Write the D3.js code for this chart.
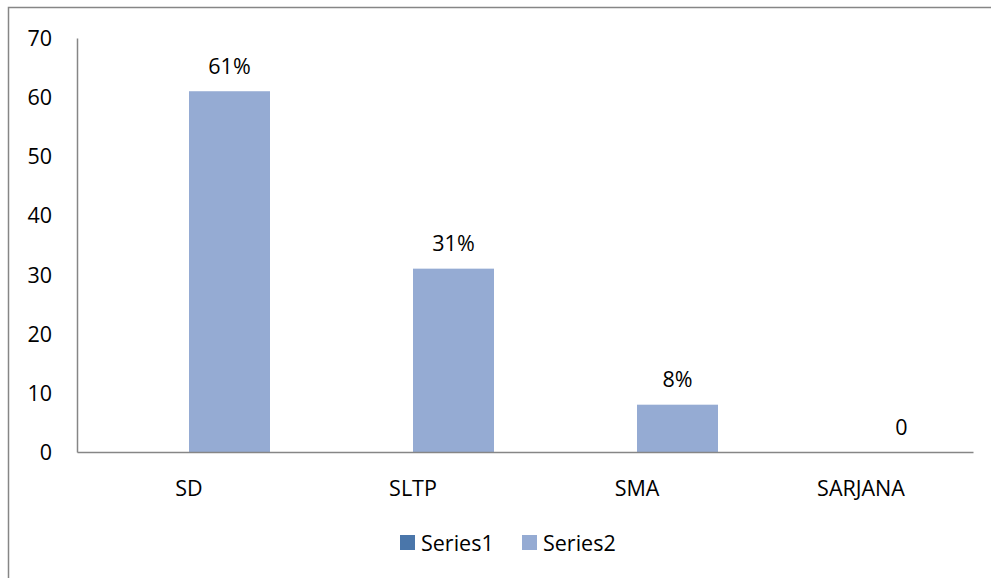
<!DOCTYPE html>
<html>
<head>
<meta charset="utf-8">
<script src="https://cdn.jsdelivr.net/npm/d3@7"></script>
<style>
  body { margin: 0; background: #fff; }
  text { font-family: "Open Sans", "Noto Sans", sans-serif; fill: #000; }
</style>
</head>
<body>
<div id="chart"></div>
<script>
var categories = ['SD', 'SLTP', 'SMA', 'SARJANA'];
var series1 = [0, 0, 0, 0];
var series2 = [61, 31, 8, 0];
var labels2 = ['61%', '31%', '8%', '0'];
var yTicks = [0, 10, 20, 30, 40, 50, 60, 70];
var seriesNames = ['Series1', 'Series2'];
var colors = ['#4a76aa', '#95abd3'];

var width = 991, height = 578;
var margin = {left: 77, right: 18, top: 38, bottom: 126};
var fs = '21.5px';

var svg = d3.select('#chart').append('svg')
  .attr('width', width)
  .attr('height', height);

// outer chart border
svg.append('rect')
  .attr('x', 8.5).attr('y', 7.5)
  .attr('width', 1000).attr('height', 600)
  .attr('fill', 'none')
  .attr('stroke', '#868686')
  .attr('stroke-width', 1.5);

var x = d3.scaleBand()
  .domain(categories)
  .range([margin.left, width - margin.right]);

var y = d3.scaleLinear()
  .domain([0, 70])
  .range([height - margin.bottom, margin.top]);

var barW = 81;

// y axis
var yAxis = svg.append('g')
  .attr('transform', 'translate(' + margin.left + ',0)')
  .call(d3.axisLeft(y).tickValues(yTicks).tickSize(0).tickPadding(25));
yAxis.select('.domain').attr('stroke', '#868686').attr('stroke-width', 1.5);
yAxis.selectAll('text').style('font-size', fs).attr('dy', '0.35em');

// bars
var rows = categories.map(function(c, i) {
  return {cat: c, s1: series1[i], s2: series2[i], label: labels2[i]};
});

var cx = function(d) { return x(d.cat) + x.bandwidth() / 2; };

svg.selectAll('.bar1')
  .data(rows).enter().append('rect')
  .attr('class', 'bar1')
  .attr('x', function(d) { return cx(d) - barW; })
  .attr('y', function(d) { return y(d.s1); })
  .attr('width', barW)
  .attr('height', function(d) { return y(0) - y(d.s1); })
  .attr('fill', colors[0]);

svg.selectAll('.bar2')
  .data(rows).enter().append('rect')
  .attr('class', 'bar2')
  .attr('x', function(d) { return cx(d); })
  .attr('y', function(d) { return y(d.s2); })
  .attr('width', barW)
  .attr('height', function(d) { return y(0) - y(d.s2); })
  .attr('fill', colors[1]);

svg.selectAll('.lbl')
  .data(rows).enter().append('text')
  .attr('class', 'lbl')
  .attr('x', function(d) { return cx(d) + barW / 2; })
  .attr('y', function(d) { return y(d.s2) - 25; })
  .attr('dy', '0.35em')
  .attr('text-anchor', 'middle')
  .style('font-size', fs)
  .text(function(d) { return d.label; });

// x axis
var xAxis = svg.append('g')
  .attr('transform', 'translate(0,' + y(0) + ')')
  .call(d3.axisBottom(x).tickSize(0).tickSizeOuter(0));
xAxis.select('.domain').attr('stroke', '#868686').attr('stroke-width', 1.5);
xAxis.selectAll('text').style('font-size', fs).attr('dy', '0.35em').attr('y', 36);

// legend
var legend = svg.append('g').attr('transform', 'translate(400,543)');
var items = legend.selectAll('g')
  .data(seriesNames).enter().append('g')
  .attr('transform', function(d, i) { return 'translate(' + (i * 122) + ',0)'; });
items.append('rect')
  .attr('x', 0).attr('y', -8)
  .attr('width', 15).attr('height', 15)
  .attr('fill', function(d, i) { return colors[i]; });
items.append('text')
  .attr('x', 21).attr('y', 0)
  .attr('dy', '0.35em')
  .style('font-size', fs)
  .text(function(d) { return d; });
</script>
</body>
</html>
